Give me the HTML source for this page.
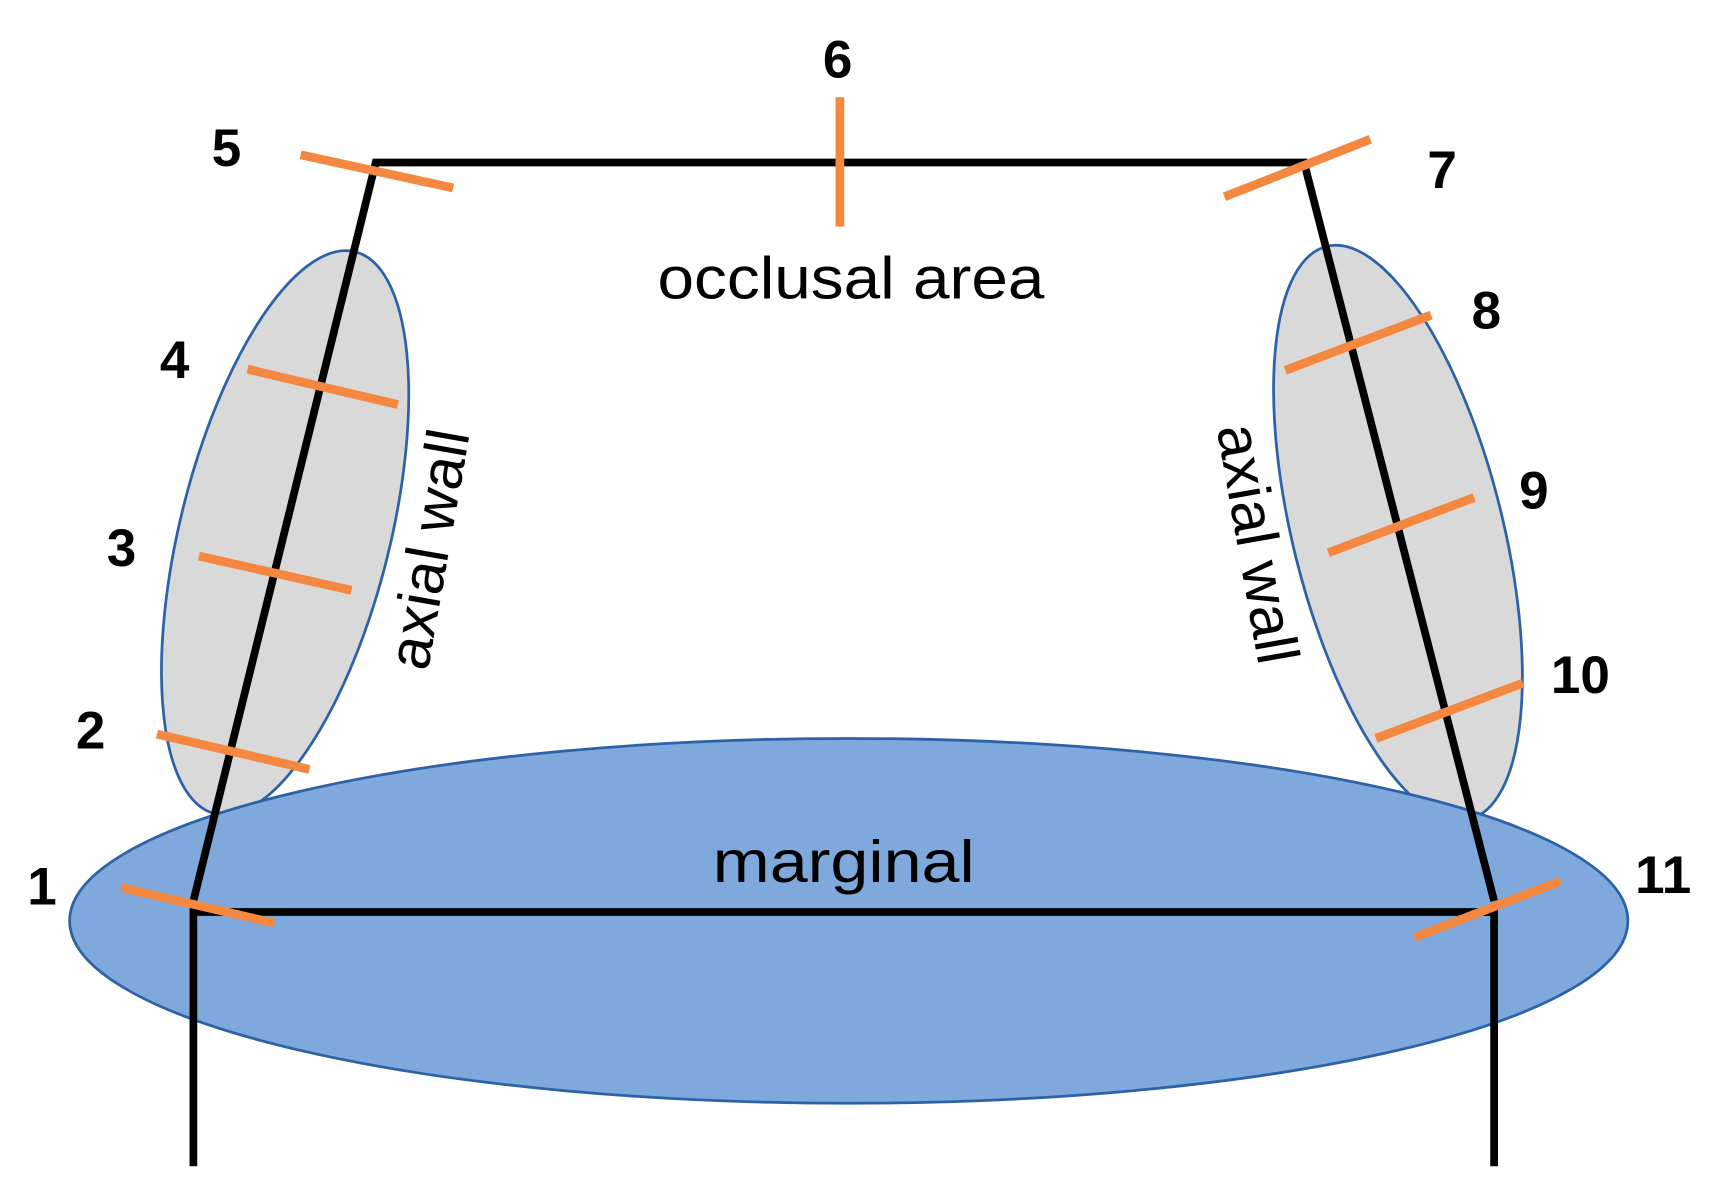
<!DOCTYPE html>
<html><head><style>html,body{margin:0;padding:0;background:#fff}svg{display:block}</style></head>
<body>
<svg width="1724" height="1195" viewBox="0 0 1560 1081" preserveAspectRatio="none" xmlns="http://www.w3.org/2000/svg">
<ellipse cx="258" cy="482" rx="95" ry="262" transform="rotate(14 258 482)" fill="#d9d9d9" stroke="#2E62A8" stroke-width="2.5"/>
<ellipse cx="1265" cy="482" rx="95" ry="267" transform="rotate(-14 1265 482)" fill="#d9d9d9" stroke="#2E62A8" stroke-width="2.5"/>
<ellipse cx="768" cy="833" rx="705" ry="165" fill="#7FA8DC" stroke="#2E62A8" stroke-width="2.5"/>
<g stroke="#000" stroke-width="7" fill="none" stroke-linecap="butt">
<polyline points="175,1055 175,825 1352,825 1352,1055"/>
<polyline points="175,815 340,147 1180,147 1352,815"/>
</g>
<g stroke="#F58840" stroke-width="8">
<line x1="272" y1="140" x2="410" y2="170"/>
<line x1="760" y1="88" x2="760" y2="205"/>
<line x1="1108" y1="178" x2="1240" y2="126"/>
<line x1="224" y1="334" x2="360" y2="366"/>
<line x1="180" y1="503" x2="318" y2="534"/>
<line x1="142" y1="664" x2="280" y2="696"/>
<line x1="110" y1="803" x2="248" y2="835"/>
<line x1="1163" y1="335" x2="1295" y2="285"/>
<line x1="1202" y1="500" x2="1334" y2="450"/>
<line x1="1245" y1="668" x2="1378" y2="618"/>
<line x1="1280" y1="848" x2="1412" y2="797"/>
</g>
<g font-family="Liberation Sans, sans-serif" font-weight="bold" font-size="48" text-anchor="middle" fill="#000">
<text x="758" y="70">6</text>
<text x="205" y="150">5</text>
<text x="1305" y="170">7</text>
<text x="158" y="342">4</text>
<text x="110" y="512">3</text>
<text x="82" y="677">2</text>
<text x="38" y="818">1</text>
<text x="1345" y="297">8</text>
<text x="1388" y="460">9</text>
<text x="1430" y="627">10</text>
<text x="1505" y="808">11</text>
</g>
<g font-family="Liberation Sans, sans-serif" font-size="54" fill="#000">
<text x="595" y="270" textLength="350" lengthAdjust="spacingAndGlyphs">occlusal area</text>
<text x="645" y="798" textLength="237" lengthAdjust="spacingAndGlyphs">marginal</text>
<text x="0" y="0" transform="translate(406,500) rotate(-80)" font-size="54" text-anchor="middle">axial wall</text>
<text x="0" y="0" transform="translate(1120,495) rotate(80)" font-size="54" text-anchor="middle">axial wall</text>
</g>
</svg>
</body></html>
